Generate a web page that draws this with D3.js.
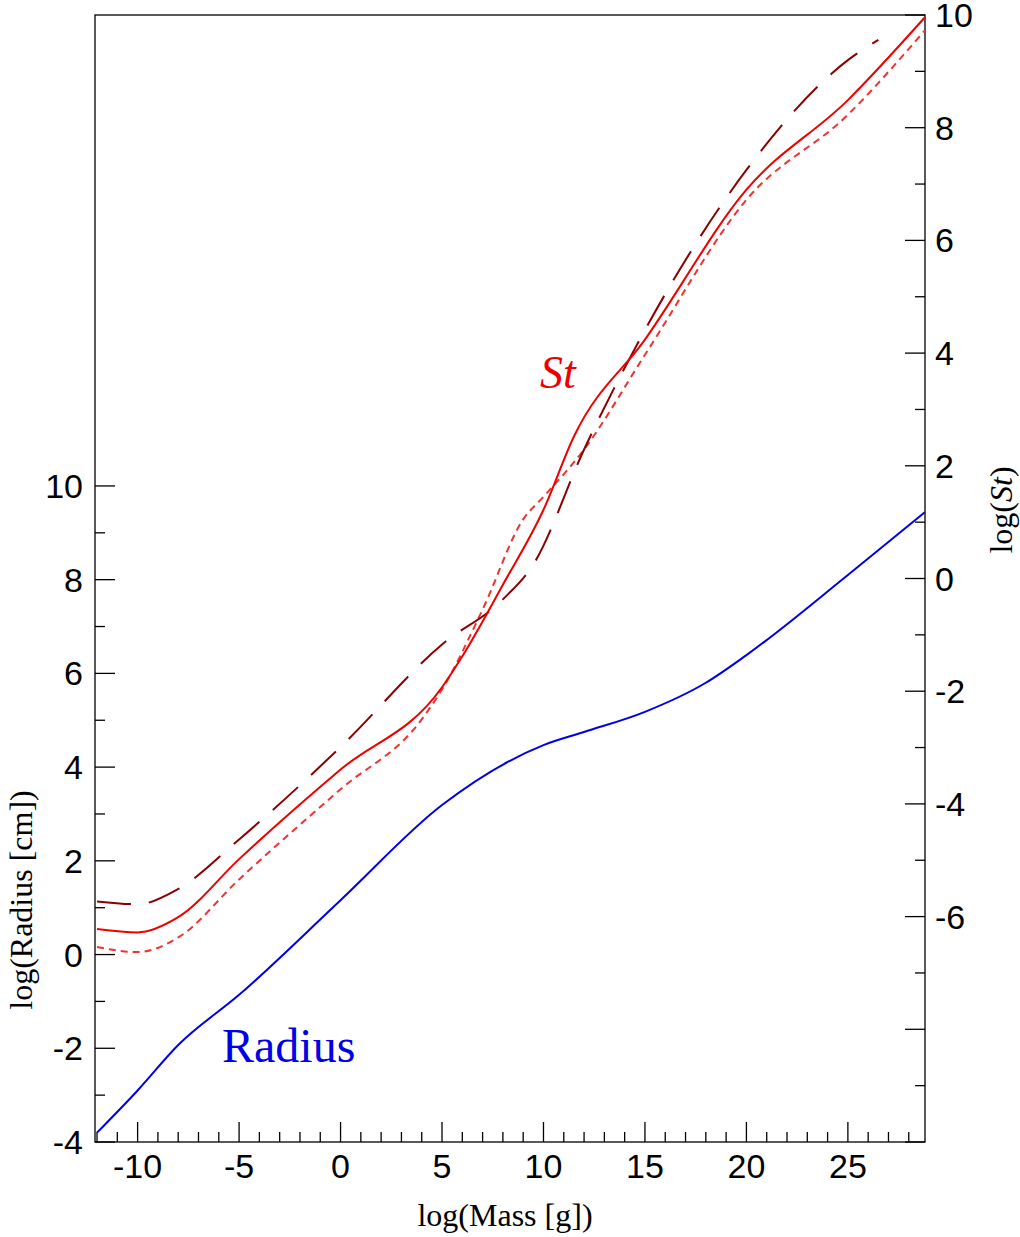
<!doctype html>
<html lang="en">
<head>
    <script src="https://d3js.org/d3.v7.min.js"></script>
    <style>
        body { margin:0; background:white; }
        text { fill:black; }
    </style>
</head>
<body>
<script>
    // log(Mass) sample points and values
    let radiusX = [-12, -10, -8, -5, 0, 5, 10, 12, 15, 18, 20, 25, 28.8];
    let radiusY = [-3.8, -2.9, -1.93, -0.86, 1.16, 3.19, 4.47, 4.75, 5.18, 5.8, 6.39, 8.1, 9.44];

    let stSolidX = [-12, -10, -8, -5, 0, 5, 6, 8, 10, 11.5, 15, 20, 25, 28.8];
    let stSolidY = [-6.22, -6.28, -6.01, -4.98, -3.39, -1.93, -1.38, -0.11, 1.22, 2.52, 4.24, 6.9, 8.49, 9.96];

    let stShortX = [-12, -10, -8, -5, 0, 4, 5, 7, 9, 10, 12, 15, 20, 25, 28.8];
    let stShortY = [-6.54, -6.63, -6.37, -5.34, -3.74, -2.5, -1.97, -0.55, 1.05, 1.45, 2.29, 3.97, 6.72, 8.23, 9.73];

    let stLongX = [-12, -10, -8, -5, 0, 5, 8, 9.5, 12, 15, 20, 25, 26.5];
    let stLongY = [-5.73, -5.78, -5.51, -4.63, -2.99, -1.17, -0.37, 0.25, 2.29, 4.41, 7.25, 9.2, 9.56];

    let xTicks = [-10, -5, 0, 5, 10, 15, 20, 25];
    let leftTicks = [-4, -2, 0, 2, 4, 6, 8, 10];
    let rightTicks = [-6, -4, -2, 0, 2, 4, 6, 8, 10];

    let width = 1020, height = 1237;
    let pLeft = 95, pRight = 925, pTop = 15, pBottom = 1142;

    let svg = d3.select('body').append('svg').attr('width', width).attr('height', height);

    let x = d3.scaleLinear().domain([-12.1, 28.8]).range([pLeft, pRight]);
    let yL = d3.scaleLinear().domain([-4, 20.05]).range([pBottom, pTop]);
    let yR = d3.scaleLinear().domain([-10, 10]).range([pBottom, pTop]);

    // frame
    svg.append('rect').attr('x', pLeft).attr('y', pTop)
       .attr('width', pRight - pLeft).attr('height', pBottom - pTop)
       .attr('fill', 'none').attr('stroke', 'black').attr('stroke-width', 1.3);

    let tickG = svg.append('g').attr('stroke', 'black').attr('stroke-width', 1.3);
    // x ticks
    d3.range(-12, 29).forEach(function (v) {
        let len = v % 5 === 0 ? 20 : 10;
        tickG.append('line').attr('x1', x(v)).attr('x2', x(v))
             .attr('y1', pBottom).attr('y2', pBottom - len);
    });
    // left ticks
    d3.range(-4, 11).forEach(function (v) {
        let len = v % 2 === 0 ? 20 : 10;
        tickG.append('line').attr('x1', pLeft).attr('x2', pLeft + len)
             .attr('y1', yL(v)).attr('y2', yL(v));
    });
    // right ticks
    d3.range(-10, 11).forEach(function (v) {
        let len = v % 2 === 0 ? 20 : 10;
        tickG.append('line').attr('x1', pRight).attr('x2', pRight - len)
             .attr('y1', yR(v)).attr('y2', yR(v));
    });

    let sans = '"Liberation Sans", Arial, sans-serif';
    let serif = '"Liberation Serif", "Times New Roman", serif';

    svg.selectAll('.xl').data(xTicks).enter().append('text')
       .attr('x', d => x(d)).attr('y', pBottom + 36).attr('text-anchor', 'middle')
       .style('font', '34px ' + sans).text(d => d);
    svg.selectAll('.ll').data(leftTicks).enter().append('text')
       .attr('x', pLeft - 12).attr('y', d => yL(d) + 12).attr('text-anchor', 'end')
       .style('font', '34px ' + sans).text(d => d);
    svg.selectAll('.rl').data(rightTicks).enter().append('text')
       .attr('x', pRight + 10).attr('y', d => yR(d) + 12).attr('text-anchor', 'start')
       .style('font', '34px ' + sans).text(d => d);

    svg.append('text').attr('x', (pLeft + pRight) / 2 - 5).attr('y', 1226)
       .attr('text-anchor', 'middle').style('font', '32px ' + serif).text('log(Mass [g])');
    svg.append('text').attr('transform', 'translate(32,' + 900 + ') rotate(-90)')
       .attr('text-anchor', 'middle').style('font', '32px ' + serif).text('log(Radius [cm])');
    let rt = svg.append('text').attr('transform', 'translate(1012,' + 510 + ') rotate(-90)')
       .attr('text-anchor', 'middle').style('font', '32px ' + serif);
    rt.append('tspan').text('log(');
    rt.append('tspan').style('font-style', 'italic').text('St');
    rt.append('tspan').text(')');

    function draw(xs, ys, scale, color, dash) {
        let pts = xs.map((v, i) => [v, ys[i]]);
        let line = d3.line().x(d => x(d[0])).y(d => scale(d[1])).curve(d3.curveMonotoneX);
        svg.append('path').datum(pts).attr('d', line)
           .attr('fill', 'none').attr('stroke', color).attr('stroke-width', 2)
           .attr('stroke-dasharray', dash);
    }

    draw(radiusX, radiusY, yL, '#0000e6', null);
    draw(stShortX, stShortY, yR, '#ee3333', '7,5');
    draw(stLongX, stLongY, yR, '#8b0000', '34,18');
    draw(stSolidX, stSolidY, yR, '#ee0000', null);

    svg.append('text').attr('x', 540).attr('y', 388)
       .style('font', 'italic 46px ' + serif).style('fill', '#ee0000').text('St');
    svg.append('text').attr('x', 222).attr('y', 1062)
       .style('font', '48px ' + serif).style('fill', '#0000e6').text('Radius');
</script>
</body>
</html>
